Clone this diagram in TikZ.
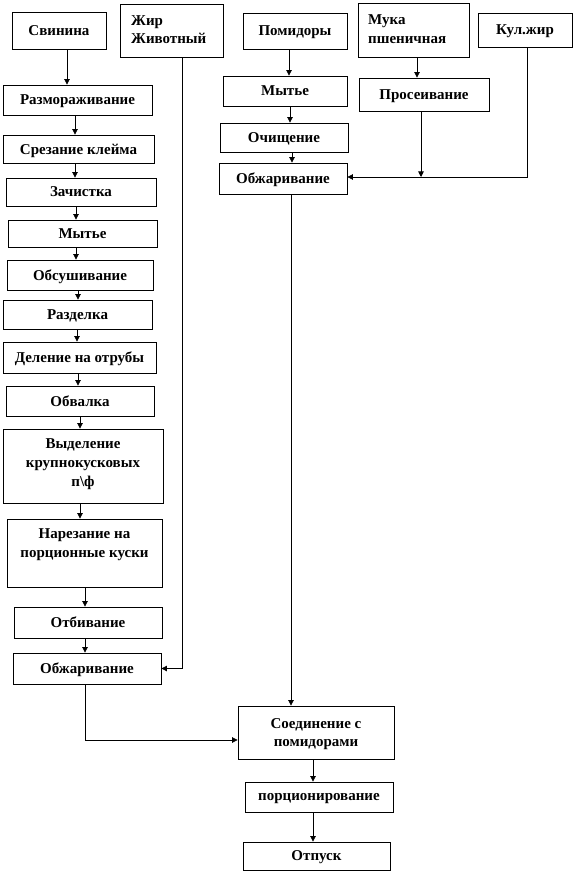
\documentclass[tikz,border=0pt]{standalone}
\usepackage{fontspec}
\setmainfont{Liberation Serif}
\usetikzlibrary{arrows.meta}
\begin{document}
\begin{tikzpicture}[x=1pt,y=-1pt,
  box/.style={draw=black,line width=0.8pt,inner sep=0pt,align=center,text depth=0pt,font=\fontsize{15}{18}\selectfont\bfseries},
  txt/.style={inner sep=0pt,align=center,font=\fontsize{15}{19}\selectfont\bfseries},
  ltxt/.style={inner sep=0pt,anchor=base west,font=\fontsize{15}{18}\selectfont\bfseries},
  arr/.style={draw=black,line width=0.7pt,-{Triangle[length=5.5pt,width=5.5pt]}},
  ln/.style={draw=black,line width=0.7pt}]
\useasboundingbox[fill=white] (0,0) rectangle (574,874);
% top row
\node[box,minimum width=94,minimum height=37] (svin) at (59,30.5) {Свинина};
\node[box,minimum width=103,minimum height=53] (zhir) at (171.5,30.5) {};
\node[ltxt] (zhirA) at (131,26) {Жир};
\node[ltxt] (zhirB) at (131,43.5) {Животный};
\node[box,minimum width=104,minimum height=36] (pom) at (295,31) {Помидоры};
\node[box,minimum width=111,minimum height=54] (muka) at (413.5,30) {};
\node[ltxt] (mukaA) at (368,25) {Мука};
\node[ltxt] (mukaB) at (368,44) {пшеничная};
\node[box,minimum width=94,minimum height=34] (kul) at (525,30) {Кул.жир};
% right column
\node[box,minimum width=124,minimum height=30] (mytR) at (285,91) {Мытье};
\node[box,minimum width=130,minimum height=33] (pros) at (424,94.5) {Просеивание};
\node[box,minimum width=128,minimum height=29] (och) at (284,137.5) {Очищение};
\node[box,minimum width=128,minimum height=31] (obzhR) at (283,178.5) {Обжаривание};
% left column
\node[box,minimum width=149,minimum height=30] (razm) at (77.5,100) {Размораживание};
\node[box,minimum width=151,minimum height=28] (srez) at (78.5,149) {Срезание клейма};
\node[box,minimum width=150,minimum height=28] (zach) at (81,192) {Зачистка};
\node[box,minimum width=149,minimum height=27] (mytL) at (82.5,233.5) {Мытье};
\node[box,minimum width=146,minimum height=30] (obsush) at (80,275) {Обсушивание};
\node[box,minimum width=149,minimum height=29] (razd) at (77.5,314.5) {Разделка};
\node[box,minimum width=153,minimum height=31] (delen) at (79.5,357.5) {Деление на отрубы};
\node[box,minimum width=148,minimum height=30] (obval) at (80,401) {Обвалка};
\node[box,minimum width=160,minimum height=74] (vydel) at (83,466) {};
\node[txt] (vydelT) at (83,464) {Выделение\\крупнокусковых\\п\textbackslash ф};
\node[box,minimum width=155,minimum height=68] (narez) at (84.5,553) {};
\node[txt] (narezT) at (84.5,545) {Нарезание на\\порционные куски};
\node[box,minimum width=148,minimum height=31] (otbiv) at (88,622.5) {Отбивание};
\node[box,minimum width=148,minimum height=31] (obzhL) at (87,668.5) {Обжаривание};
% bottom
\node[box,minimum width=156,minimum height=53] (soed) at (316,732.5) {Соединение с\\помидорами};
\node[box,minimum width=148,minimum height=30] (porc) at (319,797) {порционирование};
\node[box,minimum width=147,minimum height=28] (otpusk) at (316.5,856) {Отпуск};
% left arrows
\draw[arr] (svin.south -| 67,0) -- (razm.north -| 67,0);
\draw[arr] (razm.south -| 75,0) -- (srez.north -| 75,0);
\draw[arr] (srez.south -| 75,0) -- (zach.north -| 75,0);
\draw[arr] (zach.south -| 76,0) -- (mytL.north -| 76,0);
\draw[arr] (mytL.south -| 76,0) -- (obsush.north -| 76,0);
\draw[arr] (obsush.south -| 78,0) -- (razd.north -| 78,0);
\draw[arr] (razd.south -| 77,0) -- (delen.north -| 77,0);
\draw[arr] (delen.south -| 78,0) -- (obval.north -| 78,0);
\draw[arr] (obval.south -| 80,0) -- (vydel.north -| 80,0);
\draw[arr] (vydel.south -| 80,0) -- (narez.north -| 80,0);
\draw[arr] (narez.south -| 85,0) -- (otbiv.north -| 85,0);
\draw[arr] (otbiv.south -| 85,0) -- (obzhL.north -| 85,0);
\draw[arr] (zhir.south -| 182,0) |- (obzhL.east);
\draw[arr] (obzhL.south -| 85,0) |- (soed.west |- 0,740);
% right arrows
\draw[arr] (pom.south -| 289,0) -- (mytR.north -| 289,0);
\draw[arr] (mytR.south -| 290,0) -- (och.north -| 290,0);
\draw[arr] (och.south -| 292,0) -- (obzhR.north -| 292,0);
\draw[arr] (muka.south -| 417,0) -- (pros.north -| 417,0);
\draw[arr] (kul.south -| 527,0) |- (obzhR.east |- 0,177);
\draw[arr] (pros.south -| 421,0) -- (421,177);
\draw[arr] (obzhR.south -| 291,0) -- (soed.north -| 291,0);
\draw[arr] (soed.south -| 313,0) -- (porc.north -| 313,0);
\draw[arr] (porc.south -| 313,0) -- (otpusk.north -| 313,0);
\end{tikzpicture}
\end{document}
